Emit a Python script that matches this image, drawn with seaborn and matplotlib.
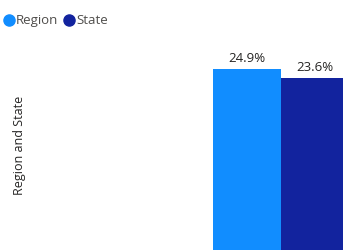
import pandas as pd
import seaborn as sns
from matplotlib import pyplot as plt
from matplotlib.lines import Line2D

series = ["Region", "State"]
values = [24.9, 23.6]
category = ["Region and State", "Region and State"]
colors = {"Region": "#118DFF", "State": "#12239E"}

df = pd.DataFrame({"category": category, "series": series, "value": values})

sns.set_style("white")
plt.rcParams["font.family"] = ["Open Sans", "DejaVu Sans"]

fig = plt.figure(figsize=(3.43, 2.5), dpi=100)
ax = fig.add_axes([0, 0, 1, 1])
sns.barplot(data=df, x="category", y="value", hue="series", palette=colors,
            width=0.8, saturation=1, dodge=True, legend=False, linewidth=0, ax=ax)

ax.set_xlim(-1.653, 0.365)
ax.set_ylim(0.1, 34.35)
for side in ax.spines.values():
    side.set_visible(False)
ax.set_xticks([])
ax.set_yticks([])
ax.set_xlabel("")

for cont in ax.containers:
    ax.bar_label(cont, fmt="%.1f%%", padding=3, fontsize=9.5, color="#252423")

ax.set_ylabel("Region and State", fontsize=9, color="#252423")
ax.yaxis.set_label_coords(0.075, 0.42)

handles = [Line2D([], [], marker="o", linestyle="", markersize=8,
                  markerfacecolor=colors[s], markeredgecolor=colors[s]) for s in series]
ax.legend(handles, series, loc="upper left", bbox_to_anchor=(-0.025, 0.98),
          ncol=2, frameon=False, fontsize=9.5, handletextpad=-0.05,
          columnspacing=0.25, handlelength=1.2, borderaxespad=0.3,
          labelcolor="#4F4D4B")

fig.savefig("out.png", dpi=100)
